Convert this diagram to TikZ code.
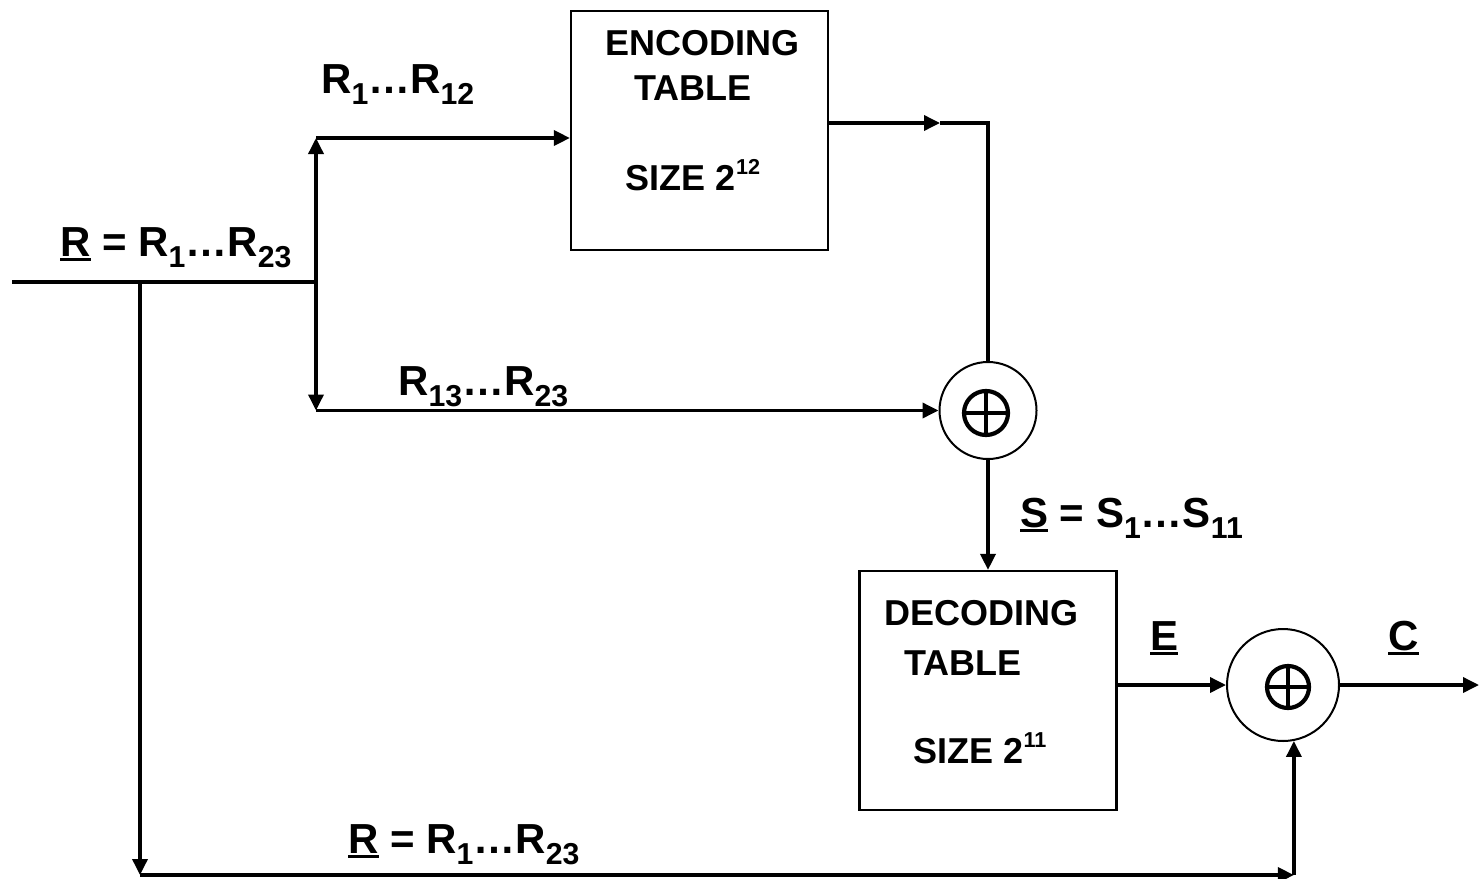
\documentclass[tikz,border=0pt]{standalone}
\usepackage{fontspec}
\setmainfont{Liberation Sans}
\usepackage{graphicx}
\usetikzlibrary{arrows.meta}
\newcommand\sbs[1]{\raisebox{-0.27em}{\scalebox{0.72}{#1}}}
\newcommand\sps[1]{\raisebox{0.42em}{\scalebox{0.6}{#1}}}
\newcommand\uln[1]{{\setbox0\hbox{#1}\rlap{\rule[-0.13em]{\wd0}{0.09em}}\box0}}
\begin{document}
\begin{tikzpicture}[x=1pt,y=-1pt,
  lab/.style={font=\fontsize{42}{48}\selectfont\bfseries, inner sep=0pt, anchor=base west},
  boxtxt/.style={font=\fontsize{36}{42}\selectfont\bfseries, inner sep=0pt, anchor=base},
  tbl/.style={draw, line width=2.2pt, minimum width=257pt, minimum height=239pt, inner sep=0pt},
  sumc/.style={circle, draw, line width=2pt, inner sep=0pt},
  wire/.style={line width=3.5pt},
  arr/.style={line width=3.5pt, -{Triangle[length=16pt,width=15pt]}},
  oplus/.style={line width=4.2pt}
]
\useasboundingbox (0,0) rectangle (1479,878);

% blocks
\node[tbl] (enc) at (699.5,130.5) {};
\node[tbl] (dec) at (988,690.5) {};
\node[sumc, minimum size=97pt] (sum1) at (988,410.5) {};
\node[sumc, minimum size=112pt] (sum2) at (1283,685) {};

% oplus glyphs
\draw[oplus] (986,413) circle (22);
\draw[line width=3.8pt] (964,413) -- (1008,413) (986,391) -- (986,435);
\draw[oplus] (1288,687) circle (21);
\draw[line width=3.8pt] (1267,687) -- (1309,687) (1288,666) -- (1288,708);

% box texts
\node[boxtxt] (e1) at (702,55) {ENCODING};
\node[boxtxt] (e2) at (693,100) {TABLE};
\node[boxtxt] (e3) at (693,190) {SIZE 2\sps{12}};
\node[boxtxt] (d1) at (981,625) {DECODING};
\node[boxtxt] (d2) at (963,675) {TABLE};
\node[boxtxt] (d3) at (980,763) {SIZE 2\sps{11}};

% labels
\node[lab] (lR) at (60,256) {\uln{R} = R\sbs{1}…R\sbs{23}};
\node[lab] (l12) at (321,93) {R\sbs{1}…R\sbs{12}};
\node[lab] (l13) at (398,395) {R\sbs{13}…R\sbs{23}};
\node[lab] (lS) at (1020,527) {\uln{S} = S\sbs{1}…S\sbs{11}};
\node[lab] (lE) at (1150,650) {\uln{E}};
\node[lab] (lC) at (1388,650) {\uln{C}};
\node[lab] (lB) at (348,853) {\uln{R} = R\sbs{1}…R\sbs{23}};

% coordinates
\coordinate (in) at (12,282);
\coordinate (j1) at (316,282);
\coordinate (jt) at (316,138);
\coordinate (jb) at (316,410.5);
\coordinate (j2) at (140,282);
\coordinate (bl) at (140,875);
\coordinate (y123) at (0,123);
\coordinate (mid) at (940,123);
\coordinate (out) at (1479,685);

% connectors
\draw[wire] (in) -- (j1);
\draw[arr] (j1) -- (jt);
\draw[arr] (j1) -- (jb);
\draw[arr] (jt) -- (jt -| enc.west);
\draw[arr] (jb) -- (sum1.west);
\draw[arr] (enc.east |- y123) -- (mid);
\draw[wire] (mid) -- (sum1.north |- y123) -- (sum1.north);
\draw[arr] (sum1.south) -- (dec.north);
\draw[arr] (dec.east |- sum2.west) -- (sum2.west);
\draw[arr] (sum2.east) -- (out);
\draw[arr] (j2) -- (bl);
\coordinate (br) at (sum2.-79.7 |- bl);
\draw[arr] (bl) -- (br);
\draw[arr] (br) -- (sum2.-79.7);
\end{tikzpicture}
\end{document}
